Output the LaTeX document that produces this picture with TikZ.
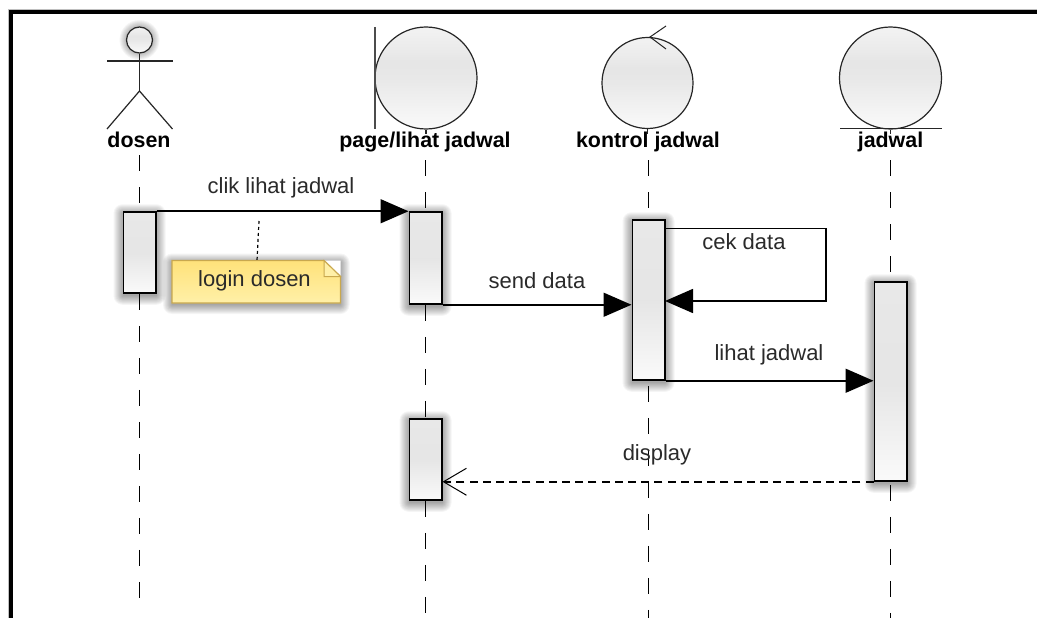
\documentclass[tikz,border=0pt]{standalone}
\usepackage{fontspec}
\setmainfont{Liberation Sans}
\usetikzlibrary{arrows.meta}
\pgfdeclarelayer{base}
\pgfdeclarelayer{shade}
\pgfsetlayers{base,shade,main}
\pgfdeclareverticalshading{glossgray}{100bp}{color(0bp)=(white!98!black);color(25bp)=(white!98!black);color(50bp)=(white!91!black);color(58bp)=(white!90!black);color(64bp)=(white!92!black);color(75bp)=(white!95!black);color(100bp)=(white!95!black)}
\pgfdeclareverticalshading{actgray}{100bp}{color(0bp)=(white!98!black);color(25bp)=(white!98!black);color(50bp)=(white!90!black);color(75bp)=(white!91!black);color(100bp)=(white!91!black)}
\definecolor{notetop}{HTML}{FFE27A}
\definecolor{notebot}{HTML}{FFF0A8}
\definecolor{noteline}{HTML}{C9A84E}
\definecolor{msgtext}{HTML}{2A2A2A}
\newcommand{\softshadow}[2]{%
  \begin{pgfonlayer}{shade}
  \foreach \e in {9,8,...,0}{%
    \fill[black,opacity=.038,rounded corners=\e pt]
      ([xshift=-\e pt,yshift=-\e pt-2pt]#1) rectangle ([xshift=\e pt,yshift=\e pt-2pt]#2);
  }%
  \end{pgfonlayer}}
\tikzset{
  x=1pt,y=-1pt,
  lifeline/.style={draw=black,line width=1.3pt,dash pattern=on 16pt off 16pt},
  headlabel/.style={font=\fontsize{21.4}{24}\selectfont\bfseries,anchor=base,inner sep=0pt,text=black},
  msglabel/.style={font=\fontsize{22}{24}\selectfont,anchor=base,inner sep=0pt,text=msgtext},
  symbol/.style={draw=black!85,line width=1.2pt,circle,inner sep=0pt,shading=glossgray},
  activation/.style={draw=black,line width=1.5pt,rectangle,inner sep=0pt,minimum width=32.5pt,shading=actgray},
  message/.style={draw=black,line width=1.6pt,-{Triangle[length=28pt,width=24pt]}},
  replymsg/.style={draw=black,line width=1.5pt,dash pattern=on 8pt off 5.2pt,-{Straight Barb[length=23pt,width=27pt,line width=1pt]}},
  actorline/.style={draw=black!85,line width=1.2pt},
}
\begin{document}
\begin{tikzpicture}
\useasboundingbox (0,0) rectangle (1037,618);
\begin{pgfonlayer}{base}
\fill[white] (0,0) rectangle (1037,618);
\draw[line width=1pt,black!25] (8,618) -- (8,9.5) -- (1037,9.5);
\draw[line width=4pt,black] (11,618) -- (11,12) -- (1037,12);
\end{pgfonlayer}

% coordinates
\coordinate (dt) at (139.5,155);
\coordinate (de) at (139.5,612);
\coordinate (pt) at (425.5,160);
\coordinate (pe) at (425.5,618);
\coordinate (kt) at (648.5,160);
\coordinate (ke) at (648.5,618);
\coordinate (jt) at (890.5,160);
\coordinate (je) at (890.5,618);

% activations
\node[activation,minimum height=81pt] (ad) at (139.5,252.5) {};
\node[activation,minimum height=92pt] (ap) at (425.5,258) {};
\node[activation,minimum height=81pt] (ap2) at (425.5,459.5) {};
\node[activation,minimum height=160pt] (ak) at (648.5,300) {};
\node[activation,minimum height=199pt] (aj) at (890.5,381.5) {};
\softshadow{ad.south west}{ad.north east}
\softshadow{ap.south west}{ap.north east}
\softshadow{ap2.south west}{ap2.north east}
\softshadow{ak.south west}{ak.north east}
\softshadow{aj.south west}{aj.north east}

% lifelines
\begin{pgfonlayer}{shade}
\draw[lifeline] (dt) -- (ad.north);
\draw[lifeline] (ad.south) -- (de);
\draw[lifeline] (pt) -- (ap.north);
\draw[lifeline] (ap.south) -- (ap2.north);
\draw[lifeline] (ap2.south) -- (pe);
\draw[lifeline] (kt) -- (ak.north);
\draw[lifeline] ([yshift=-5pt]ak.south) -- (ke);
\draw[lifeline] (jt) -- (aj.north);
\draw[lifeline] ([yshift=-3pt]aj.south) -- (je);
\end{pgfonlayer}

% actor
\node[symbol,minimum size=26pt] (head) at (139.5,40) {};
\begin{pgfonlayer}{shade}
\foreach \e in {7,6,...,0}{\fill[black,opacity=.04] (head.center) circle[radius=13pt+\e pt];}
\end{pgfonlayer}
\coordinate (hip) at (139.5,91);
\coordinate (armL) at (107,61);
\coordinate (armR) at (172.5,61);
\coordinate (legL) at (107,129);
\coordinate (legR) at (172.5,129);
\draw[actorline] (head.south) -- (hip);
\draw[actorline] (armL) -- (armR);
\draw[actorline] (legL) -- (hip) -- (legR);

% boundary
\node[symbol,minimum size=102pt] (bnd) at (426,78) {};
\coordinate (barT) at (375,27);
\coordinate (barB) at (375,129);
\draw[actorline,draw=black!70] (barT) -- (barB);
\coordinate (bndstem) at (426,134);
\draw[actorline] (bnd.south) -- (bndstem);

% control
\node[symbol,minimum size=91pt] (ctl) at (647.5,83) {};
\coordinate (tip) at (650,37);
\coordinate (ctlA) at (666,26);
\coordinate (ctlB) at (666,49);
\draw[actorline,line width=1pt] (ctlA) -- (tip) -- (ctlB);
\coordinate (ctlstem) at (647.5,134);
\draw[actorline] (ctl.south) -- (ctlstem);

% entity
\node[symbol,minimum size=102pt] (ent) at (890.5,78) {};
\coordinate (entL) at (840,128.5);
\coordinate (entR) at (942,128.5);
\draw[actorline] (entL) -- (entR);
\coordinate (entstem) at (890.5,134);
\draw[actorline] (ent.south) -- (entstem);

% heading labels
\node[headlabel] (ld) at (139,147) {dosen};
\node[headlabel] (lp) at (425,147) {page/lihat jadwal};
\node[headlabel] (lk) at (648,147) {kontrol jadwal};
\node[headlabel] (lj) at (890.5,147) {jadwal};

% messages
\draw[message] (ad.north east) -- (ap.north west);
\node[msglabel] (m1) at (281,193) {clik lihat jadwal};
\draw[message] (ap.south east) -- (ak.west |- ap.south);
\node[msglabel] (m2) at (537,288.5) {send data};
\coordinate (cekA) at (665,228.5);
\coordinate (cekB) at (826,228.5);
\coordinate (cekC) at (826,301);
\coordinate (cekD) at (665,301);
\draw[message] (cekA) -- (cekB) -- (cekC) -- (cekD);
\node[msglabel] (m3) at (744,249.5) {cek data};
\draw[message] (ak.south east) -- (aj.west |- ak.south);
\node[msglabel] (m4) at (769,360.5) {lihat jadwal};
\draw[replymsg] (aj.south west) -- (ap2.east |- aj.south);
\node[msglabel] (m5) at (657,460.5) {display};

% note
\coordinate (nA) at (172,260.5);
\coordinate (nB) at (324,260.5);
\coordinate (nC) at (340.5,276.5);
\coordinate (nD) at (340.5,303);
\coordinate (nE) at (172,303);
\coordinate (nF) at (324,276.5);
\coordinate (nG) at (340.5,260.5);
\softshadow{nE}{nG}
\begin{pgfonlayer}{shade}
\fill[white] (nB) -- (nG) -- (nC) -- cycle;
\end{pgfonlayer}
\draw[draw=noteline,line width=1.2pt,top color=notetop,bottom color=notebot]
  (nA) -- (nB) -- (nC) -- (nD) -- (nE) -- cycle;
\draw[draw=noteline,line width=1pt,fill=notebot] (nB) -- (nF) -- (nC) -- cycle;
\node[msglabel] (note) at (254.5,286.5) {login dosen};
\coordinate (anchorM) at (259,221);
\coordinate (anchorN) at (257,260.5);
\draw[black,line width=1.2pt,dash pattern=on 3pt off 3pt] (anchorM) -- (anchorN);
\end{tikzpicture}
\end{document}
